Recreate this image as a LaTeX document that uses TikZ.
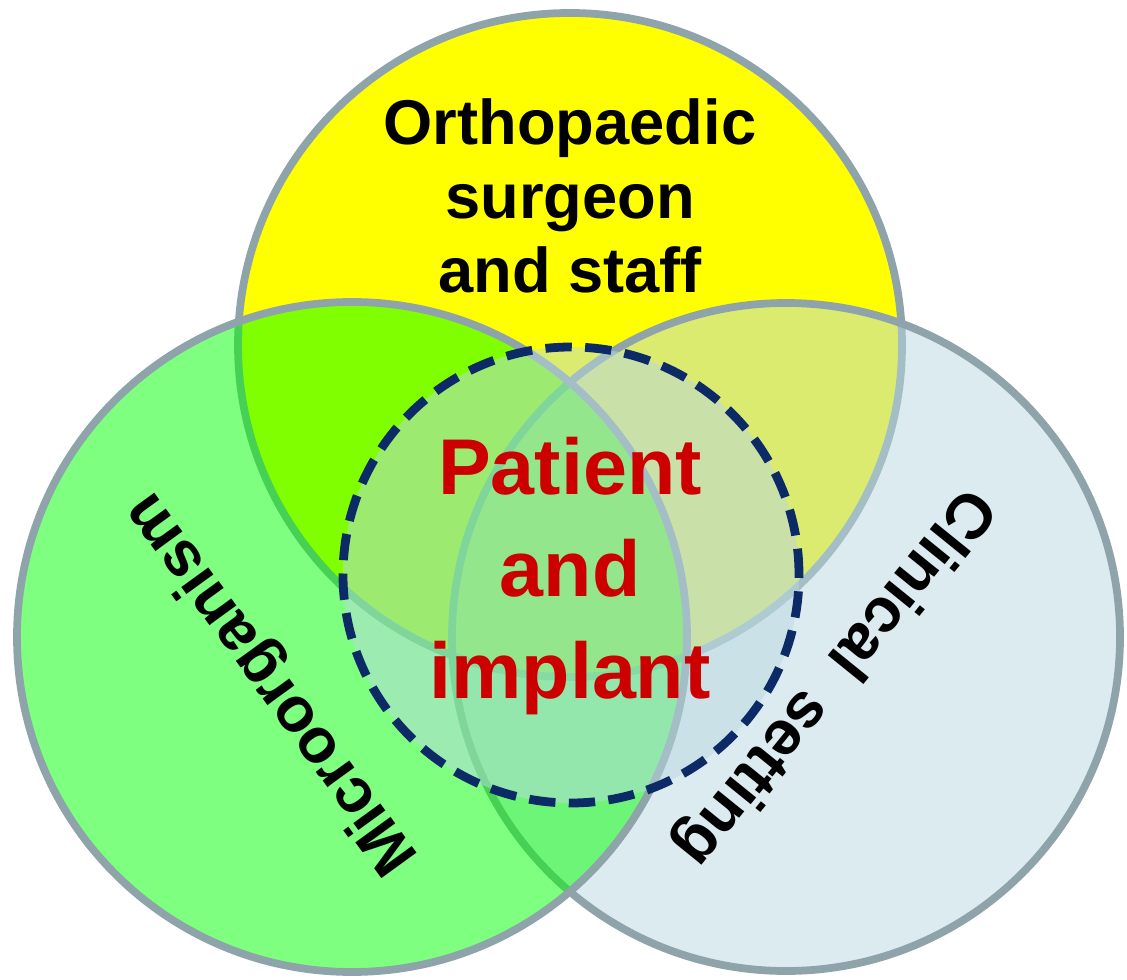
\documentclass[tikz,border=0pt]{standalone}
\usepackage{fontspec}
\setmainfont{Liberation Sans}
\definecolor{VennYellow}{HTML}{FFFF00}
\definecolor{VennGreen}{HTML}{00FF00}
\definecolor{VennBlue}{HTML}{B9D9E1}
\definecolor{VennRim}{HTML}{8FA3AA}
\definecolor{VennNavy}{HTML}{0B2A66}
\definecolor{VennRed}{HTML}{CC0000}
\tikzset{
  ring/.style={draw=VennRim, line width=2.2pt},
  surgeon/.style={ring, fill=VennYellow},
  clinical/.style={ring, fill=VennBlue, fill opacity=0.5},
  microbe/.style={ring, fill=VennGreen, fill opacity=0.5},
  core/.style={draw=VennNavy, line width=2.5pt,
               dash pattern=on 7.5pt off 3.8pt,
               fill=VennBlue, fill opacity=0.5},
  ringtext/.style={align=center, inner sep=0pt, text=black,
                   font=\bfseries\fontsize{18}{21}\selectfont},
  coretext/.style={align=center, inner sep=0pt, text=VennRed,
                   font=\bfseries\fontsize{22.5}{29}\selectfont}
}

\begin{document}
\begin{tikzpicture}
  \path[use as bounding box, fill=white] (0,0) rectangle (11.27,9.79);

  \coordinate (surgeonc) at (5.70,6.34);
  \coordinate (clinicalc) at (7.86,3.42);
  \coordinate (microbec) at (3.52,3.42);
  \coordinate (corec) at (5.71,4.04);

  \draw[surgeon] (surgeonc) circle[radius=3.32];
  \draw[clinical] (clinicalc) circle[radius=3.34];
  \draw[microbe] (microbec) circle[radius=3.35];
  \draw[core] (corec) circle[radius=2.28];

  \node[ringtext] (staff) at (5.70,7.83)
    {Orthopaedic\\surgeon\\and staff};
  \node[ringtext, rotate=126] (microbes) at (2.73,2.96)
    {Microorganism};
  \node[ringtext, rotate=-129] (setting) at (8.33,3.03)
    {Clinical\ \ setting};
  \node[coretext] (patient) at (5.70,4.03)
    {Patient\\and\\implant};
\end{tikzpicture}
\end{document}
